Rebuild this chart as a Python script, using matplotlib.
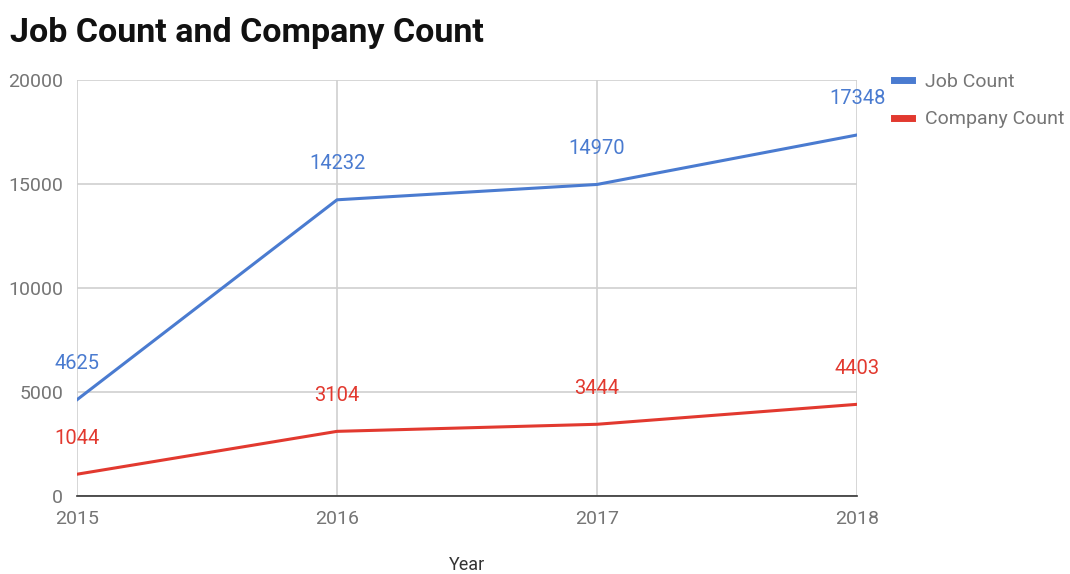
import matplotlib
matplotlib.use("Agg")
import matplotlib.pyplot as plt
from matplotlib.lines import Line2D

years = [2015, 2016, 2017, 2018]
job_count = [4625, 14232, 14970, 17348]
company_count = [1044, 3104, 3444, 4403]
yticks = [0, 5000, 10000, 15000, 20000]

plt.rcParams['font.family'] = ['Roboto', 'DejaVu Sans']
BLUE = '#4a7bd0'
RED = '#e2392f'
GRAY = '#757575'

fig = plt.figure(figsize=(10.7, 5.74), dpi=100)
ax = fig.add_axes([0.072, 0.136, 0.729, 0.725])

ax.plot(years, job_count, color=BLUE, lw=2.2, label='Job Count', zorder=3)
ax.plot(years, company_count, color=RED, lw=2.2, label='Company Count', zorder=3)

for x, y in zip(years, job_count):
    ax.annotate(str(y), (x, y), xytext=(0, 26), textcoords='offset points',
                ha='center', va='center', color=BLUE, fontsize=14.5)
for x, y in zip(years, company_count):
    ax.annotate(str(y), (x, y), xytext=(0, 26), textcoords='offset points',
                ha='center', va='center', color=RED, fontsize=14.5)

ax.set_xlim(2015, 2018)
ax.set_ylim(0, 20000)
ax.set_xticks(years)
ax.set_xticklabels([str(y) for y in years])
ax.set_yticks(yticks)
ax.grid(True, color='#d0d0d0', lw=1.2, zorder=0)
for s in ['top', 'right', 'left']:
    ax.spines[s].set_visible(False)
ax.spines['bottom'].set_color('#333333')
ax.spines['bottom'].set_linewidth(1.2)
ax.spines['bottom'].set_zorder(4)
ax.tick_params(axis='both', length=0, colors=GRAY, labelsize=14)
ax.tick_params(axis='x', pad=10)
ax.tick_params(axis='y', pad=10)
ax.set_xlabel('Year', color='#333333', fontsize=13, labelpad=20)

fig.text(0.009, 0.942, 'Job Count and Company Count', fontsize=24.5,
         fontweight='bold', color='#111111', va='center', ha='left')

handles = [Line2D([0], [0], color=BLUE, lw=5), Line2D([0], [0], color=RED, lw=5)]
fig.legend(handles, ['Job Count', 'Company Count'], loc='upper left',
           bbox_to_anchor=(0.826, 0.89), frameon=False, fontsize=14,
           handlelength=0.95, handletextpad=0.65, labelspacing=1.0,
           labelcolor=GRAY, borderaxespad=0.3, borderpad=0.2)

fig.savefig('out.png', dpi=100, facecolor='white')
